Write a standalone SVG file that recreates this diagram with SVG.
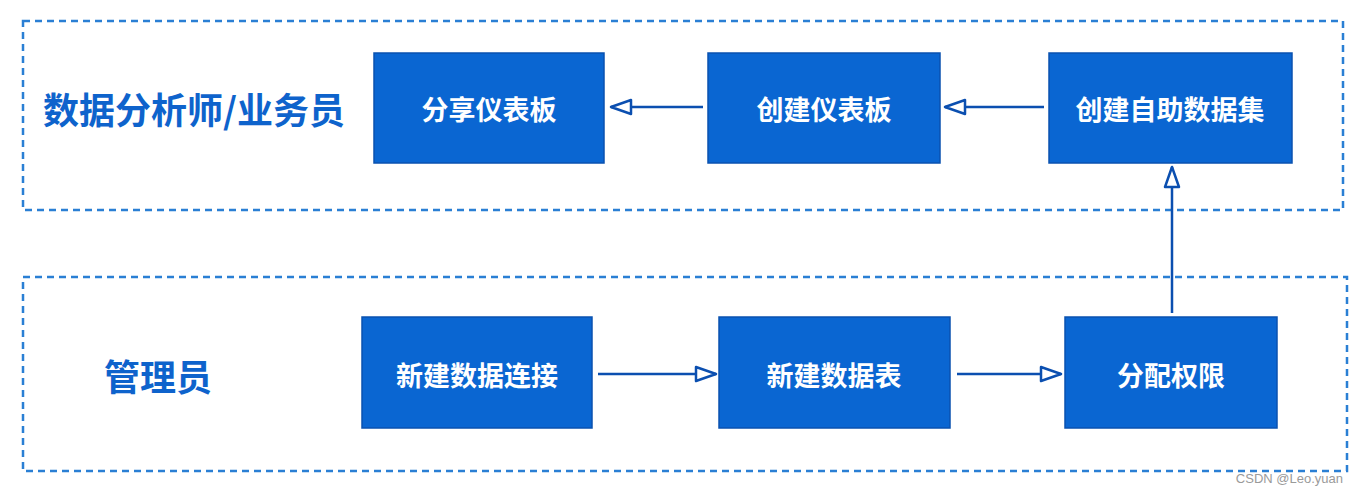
<svg xmlns="http://www.w3.org/2000/svg" width="1358" height="494" viewBox="0 0 1358 494">
<style>
.lane{fill:none;stroke:#2a7fd4;stroke-width:2.5;stroke-dasharray:7 5}
.box{fill:#0a66d2;stroke:#0a52b0;stroke-width:1.5}
.bt{font-family:"Noto Sans CJK SC","Noto Sans",sans-serif;font-weight:700;font-size:27px;fill:#fff;text-anchor:middle;dominant-baseline:central}
.lt{font-family:"Noto Sans CJK SC","Noto Sans",sans-serif;font-weight:700;font-size:36px;fill:#0e63cc;dominant-baseline:central}
.conn{fill:none;stroke:#0b4fb0;stroke-width:2.5}
</style>
<defs>
<marker id="ah" viewBox="0 0 24 18" refX="22" refY="9" markerWidth="24" markerHeight="18" markerUnits="userSpaceOnUse" orient="auto">
<path d="M2,2 L22,9 L2,16 Z" fill="#fff" stroke="#0b4fb0" stroke-width="2.5" stroke-linejoin="round"/>
</marker>
</defs>
<rect width="1358" height="494" fill="#fff"/>
<g id="lane-analyst">
<rect class="lane" x="23" y="21" width="1320" height="189"/>
<text class="lt" x="43" y="108" textLength="302" lengthAdjust="spacingAndGlyphs">数据分析师/业务员</text>
</g>
<g id="lane-admin">
<rect class="lane" x="23" y="277" width="1324" height="194"/>
<text class="lt" x="104" y="375">管理员</text>
</g>
<g id="n-share"><rect class="box" x="374" y="53" width="230" height="110"/><text class="bt" x="489" y="108">分享仪表板</text></g>
<g id="n-create-dash"><rect class="box" x="708" y="53" width="232" height="110"/><text class="bt" x="824" y="108">创建仪表板</text></g>
<g id="n-create-ds"><rect class="box" x="1049" y="53" width="243" height="110"/><text class="bt" x="1170" y="108">创建自助数据集</text></g>
<g id="n-conn"><rect class="box" x="362" y="317" width="230" height="111"/><text class="bt" x="477" y="374">新建数据连接</text></g>
<g id="n-table"><rect class="box" x="719" y="317" width="231" height="111"/><text class="bt" x="834" y="374">新建数据表</text></g>
<g id="n-perm"><rect class="box" x="1065" y="317" width="212" height="111"/><text class="bt" x="1171" y="374">分配权限</text></g>
<g id="connectors">
<line class="conn" x1="703" y1="107" x2="611" y2="107" marker-end="url(#ah)"/>
<line class="conn" x1="1044" y1="107" x2="945" y2="107" marker-end="url(#ah)"/>
<line class="conn" x1="598" y1="374" x2="716" y2="374" marker-end="url(#ah)"/>
<line class="conn" x1="957" y1="374" x2="1061" y2="374" marker-end="url(#ah)"/>
<line class="conn" x1="1172" y1="313" x2="1172" y2="167" marker-end="url(#ah)"/>
</g>
<text x="1343" y="483" font-family="'Liberation Sans',Arial,sans-serif" font-size="13" fill="#9a9a9a" text-anchor="end">CSDN @Leo.yuan</text>
</svg>
